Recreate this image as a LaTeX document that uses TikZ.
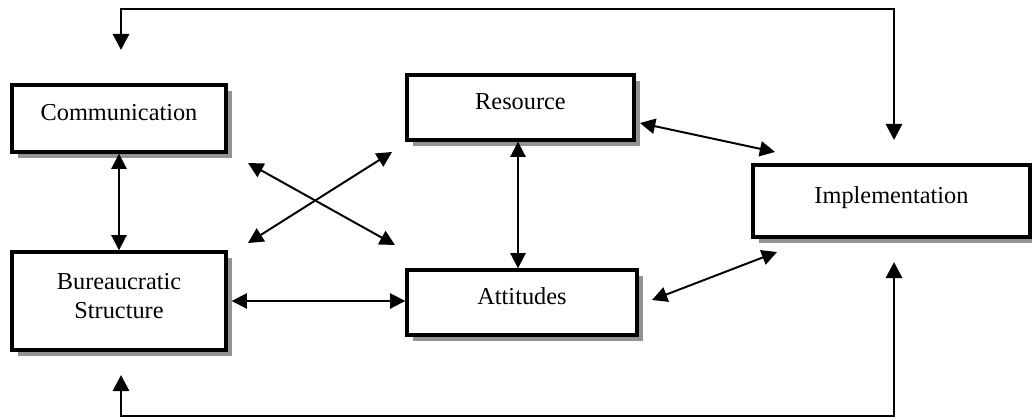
\documentclass[tikz,border=0pt]{standalone}
\usepackage{fontspec}
\setmainfont{Liberation Serif}
\usetikzlibrary{arrows.meta,shadows}

\tikzset{
  factor/.style={draw, line width=2.4pt, fill=white, align=center,
    font=\fontsize{17.3}{21}\selectfont,
    drop shadow={shadow xshift=0.14cm, shadow yshift=-0.14cm, fill=gray!85, opacity=1}},
  oneline/.style={text height=12pt, text depth=9pt},
  link/.style={line width=1.4pt, {Triangle[length=0.38cm,width=0.38cm]}-{Triangle[length=0.38cm,width=0.38cm]}},
  feedback/.style={line width=2.1pt, {Triangle[length=0.4cm,width=0.4cm]}-{Triangle[length=0.4cm,width=0.4cm]}}
}

\begin{document}
\begin{tikzpicture}[x=0.025cm, y=-0.025cm]
    \useasboundingbox (0,0) rectangle (1032,419);

    % the factor boxes
    \node[factor, oneline, minimum width=5.35cm, minimum height=1.675cm] (comm) at (119,118.5) {Communication};
    \node[factor, minimum width=5.35cm, minimum height=2.45cm] (bureau) at (119,301) {Bureaucratic\\Structure\\[-14pt]};
    \node[factor, oneline, minimum width=5.675cm, minimum height=1.625cm] (res) at (520.5,107.5) {Resource};
    \node[factor, oneline, minimum width=5.75cm, minimum height=1.625cm] (att) at (522,302.5) {Attitudes};
    \node[factor, oneline, minimum width=6.925cm, minimum height=1.8cm] (impl) at (891.5,201) {Implementation};

    % free arrow ends
    \coordinate (x1) at (248,163);
    \coordinate (x2) at (395,245);
    \coordinate (x3) at (248,243);
    \coordinate (x4) at (392,152);
    \coordinate (ri1) at (640,123);
    \coordinate (ri2) at (775,152);
    \coordinate (ai1) at (652,300);
    \coordinate (ai2) at (777,252);
    \coordinate (t1) at (121,50);
    \coordinate (t2) at (894,140);
    \coordinate (b1) at (121,375);
    \coordinate (b2) at (894,262);

    % links between the factors
    \draw[link] (comm.south) -- (bureau.north);
    \draw[link] (res.south -| 518,0) -- (att.north -| 518,0);
    \draw[link] ([xshift=0.1cm]bureau.east) -- (bureau.east -| att.west);
    \draw[link] (x1) -- (x2);
    \draw[link] (x3) -- (x4);
    \draw[link] (ri1) -- (ri2);
    \draw[link] (ai1) -- (ai2);

    % feedback loops
    \draw[feedback] (t1) -- ++(0,-41) -| (t2);
    \draw[feedback] (b1) -- (121,416) -| (b2);
\end{tikzpicture}
\end{document}
